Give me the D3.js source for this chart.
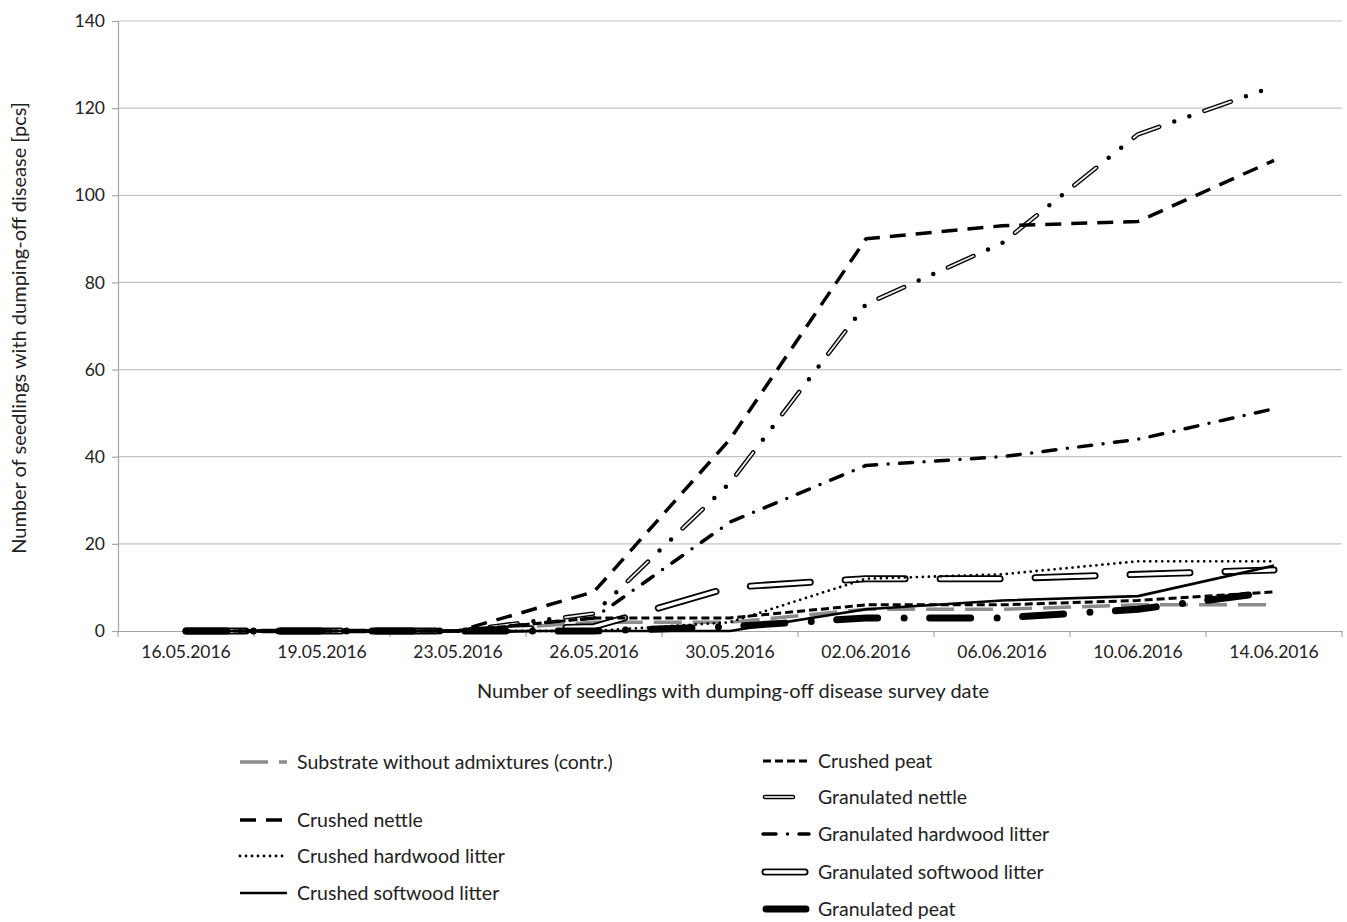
<!DOCTYPE html>
<html><head><meta charset="utf-8">
<script src="https://cdn.jsdelivr.net/npm/d3@7"></script>
<style>
html,body{margin:0;padding:0;background:#fff;}
text{font-family:Lato,"Open Sans",sans-serif;fill:#222;}
</style></head>
<body><svg id="c" width="1347" height="922"></svg>
<script>
// ---- data ----
const dates = ["16.05.2016","19.05.2016","23.05.2016","26.05.2016","30.05.2016","02.06.2016","06.06.2016","10.06.2016","14.06.2016"];
const yTicks = [0,20,40,60,80,100,120,140];
const seriesNames = ["Substrate without admixtures (contr.)","Crushed peat","Crushed nettle","Granulated nettle","Granulated hardwood litter","Crushed hardwood litter","Granulated softwood litter","Crushed softwood litter","Granulated peat"];
const control         = [0,0,0,2,2,5,5,6,6];
const crushedPeat     = [0,0,0,3,3,6,6,7,9];
const crushedNettle   = [0,0,0,9,44,90,93,94,108];
const granNettle      = [0,0,0,4,34,75,89,114,125];
const granHardwood    = [0,0,0,3,25,38,40,44,51];
const crushedHardwood = [0,0,0,0,2,12,13,16,16];
const granSoftwood    = [0,0,0,1,10,12,12,13,14];
const crushedSoftwood = [0,0,0,0,0,5,7,8,15];
const granPeat        = [0,0,0,0,1,3,3,5,9];
const xTitle = "Number of seedlings with dumping-off disease survey date";
const yTitle = "Number of seedlings with dumping-off disease [pcs]";

// ---- styles (stroke layers) ----
const styles = {
  "Substrate without admixtures (contr.)":[{c:"#8c8c8c",w:3.5,d:"28 11",cap:"butt"}],
  "Crushed peat":[{c:"#000",w:3,d:"8 4",cap:"butt"}],
  "Crushed nettle":[{c:"#000",w:3.5,d:"16 10",cap:"butt"}],
  "Granulated nettle":[{c:"#000",w:4.5,d:"28 16 0 16 0 16",cap:"round"},{c:"#ececec",w:1.8,d:"28 48",cap:"round"}],
  "Granulated hardwood litter":[{c:"#000",w:3.5,d:"13 11.5 0 11.5",cap:"round"}],
  "Crushed hardwood litter":[{c:"#000",w:2.8,d:"0 6",cap:"round"}],
  "Granulated softwood litter":[{c:"#000",w:7,d:"60 35",cap:"round"},{c:"#fff",w:3.4,d:"60 35",cap:"round"}],
  "Crushed softwood litter":[{c:"#000",w:2.6,d:null,cap:"butt"}],
  "Granulated peat":[{c:"#000",w:7,d:"41 26.5 0 25.5",cap:"round"}]
};
const valuesByName = {
  "Substrate without admixtures (contr.)":control,"Crushed peat":crushedPeat,"Crushed nettle":crushedNettle,
  "Granulated nettle":granNettle,"Granulated hardwood litter":granHardwood,"Crushed hardwood litter":crushedHardwood,
  "Granulated softwood litter":granSoftwood,"Crushed softwood litter":crushedSoftwood,"Granulated peat":granPeat
};
const drawOrder = ["Substrate without admixtures (contr.)","Granulated nettle","Granulated hardwood litter","Granulated softwood litter","Crushed peat","Crushed nettle","Crushed hardwood litter","Crushed softwood litter","Granulated peat"];

const FS = 20, TFS = 17.5, LFS = 19.5;
const svg = d3.select("#c");
const L=118,R=1342,T=21,B=631;
const x = d3.scaleBand().domain(dates).range([L,R]).padding(0);
const cx = d => x(d)+x.bandwidth()/2;
const y = d3.scaleLinear().domain([0,140]).range([B,T]);

// gridlines
svg.append("g").selectAll("line").data(yTicks.filter(t=>t>0)).join("line")
  .attr("x1",L).attr("x2",R).attr("y1",d=>y(d)).attr("y2",d=>y(d))
  .attr("stroke","#c4c4c4").attr("stroke-width",1.2);

// y axis
const ya = svg.append("g").attr("transform",`translate(${L},0)`)
  .call(d3.axisLeft(y).tickValues(yTicks).tickSize(6).tickPadding(7));
ya.select(".domain").attr("stroke","#a6a6a6").attr("stroke-width",1.2);
ya.selectAll(".tick line").attr("stroke","#a6a6a6").attr("stroke-width",1.2);
ya.selectAll("text").attr("font-size",TFS).style("font-family","Lato").attr("fill","#222");

// x axis
const xa = svg.append("g").attr("transform",`translate(0,${B})`)
  .call(d3.axisBottom(x).tickSize(0).tickPadding(15));
xa.select(".domain").attr("stroke","#a6a6a6").attr("stroke-width",1.2);
xa.selectAll("text").attr("font-size",TFS).style("font-family","Lato").attr("fill","#222");
svg.append("g").selectAll("line").data(dates.concat(["end"])).join("line")
  .attr("x1",d=>d==="end"?R:x(d)).attr("x2",d=>d==="end"?R:x(d))
  .attr("y1",B).attr("y2",B+6).attr("stroke","#a6a6a6").attr("stroke-width",1.2);

// titles
svg.append("text").attr("x",(L+R)/2+3).attr("y",691).attr("dy","0.35em").attr("text-anchor","middle").attr("font-size",FS).text(xTitle);
svg.append("text").attr("transform",`translate(19,${(T+B)/2+2}) rotate(-90)`).attr("dy","0.35em").attr("text-anchor","middle").attr("font-size",FS).text(yTitle);

// lines
const line = d3.line().x((d,i)=>cx(dates[i])).y(d=>y(d));
drawOrder.forEach(name=>{
  styles[name].forEach(s=>{
    svg.append("path").datum(valuesByName[name]).attr("d",line)
      .attr("fill","none").attr("stroke",s.c).attr("stroke-width",s.w)
      .attr("stroke-dasharray",s.d).attr("stroke-linecap",s.cap).attr("stroke-linejoin","round");
  });
});

// legend
const slots = [
  {n:"Substrate without admixtures (contr.)",x:240,y:762,len:47,tx:297},
  {n:"Crushed nettle",x:240,y:820,len:47,tx:297},
  {n:"Crushed hardwood litter",x:240,y:856,len:47,tx:297},
  {n:"Crushed softwood litter",x:240,y:893,len:47,tx:297},
  {n:"Crushed peat",x:763,y:761,len:46,tx:818},
  {n:"Granulated nettle",x:765,y:797,len:40,tx:818},
  {n:"Granulated hardwood litter",x:763,y:834,len:46,tx:818},
  {n:"Granulated softwood litter",x:765,y:872,len:40,tx:818},
  {n:"Granulated peat",x:766,y:909,len:40,tx:818}
];
slots.forEach(sl=>{
  styles[sl.n].forEach(s=>{
    svg.append("path").attr("d",d3.line()([[sl.x,sl.y],[sl.x+sl.len,sl.y]]))
      .attr("fill","none").attr("stroke",sl.n==="Granulated nettle"&&s.c!=="#000"?"#c8c8c8":s.c).attr("stroke-width",s.w)
      .attr("stroke-dasharray",s.d).attr("stroke-linecap",s.cap);
  });
  svg.append("text").attr("x",sl.tx).attr("y",sl.y).attr("dy","0.35em").attr("font-size",LFS).text(sl.n);
});
</script></body></html>
